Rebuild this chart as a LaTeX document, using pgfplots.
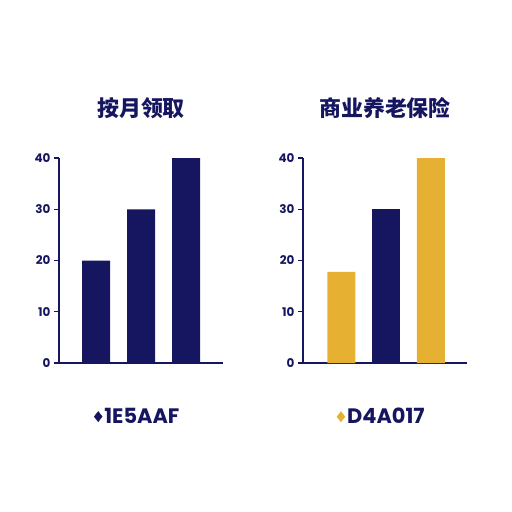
\documentclass[border=0pt]{standalone}
\usepackage{fontspec}
\setmainfont{Poppins}
\newfontfamily\cjk{Noto Sans CJK SC}
\usepackage{pgfplots}
\pgfplotsset{compat=1.18}
\definecolor{navy}{HTML}{15165F}
\definecolor{gold}{HTML}{E6B032}
\pgfplotsset{
  panel/.style={
    scale only axis,
    anchor=south west,
    width=164bp, height=205bp,
    axis x line=bottom, axis y line=left,
    axis line style={navy, line width=1.6pt, -},
    ymin=0, ymax=40,
    ytick={0,10,...,40},
    xtick=\empty,
    major tick length=5bp,
    tick style={navy, line width=1.2pt},
    tick align=outside,
    yticklabel style={font=\bfseries\fontsize{12}{12}\selectfont, text=navy},
    /pgf/number format/assume math mode=true,
    title style={font=\cjk\bfseries\fontsize{22}{22}\selectfont, text=navy, yshift=30bp},
    legend style={draw=none, fill=none, at={(0.48,-0.2)}, anchor=north,
      font=\bfseries\fontsize{21}{21}\selectfont, text=navy},
  },
  bars/.style={ybar, bar width=28bp, bar shift=0pt, draw=none, forget plot},
  gem/.style={legend image code/.code={\fill[#1] (0.25cm,0.18cm) -- (0.39cm,0cm) -- (0.25cm,-0.18cm) -- (0.11cm,0cm) -- cycle;}},
}
\begin{document}
\begin{tikzpicture}
\path[use as bounding box] (0,0) rectangle (512bp,-512bp);
\begin{axis}[panel, at={(59bp,-363bp)}, xmin=0.178, xmax=3.82,
  title={按月领取}]
\addplot[bars, fill=navy] coordinates {(1,20) (2,30) (3,40)};
\addlegendimage{gem=navy}
\addlegendentry{1E5AAF}
\end{axis}
\begin{axis}[panel, at={(303bp,-363bp)}, xmin=0.144, xmax=3.81,
  title={商业养老保险}]
\addplot[bars, fill=gold] coordinates {(1,17.8) (3,40)};
\addplot[bars, fill=navy] coordinates {(2,30)};
\addlegendimage{gem=gold}
\addlegendentry{D4A017}
\end{axis}
\end{tikzpicture}
\end{document}
